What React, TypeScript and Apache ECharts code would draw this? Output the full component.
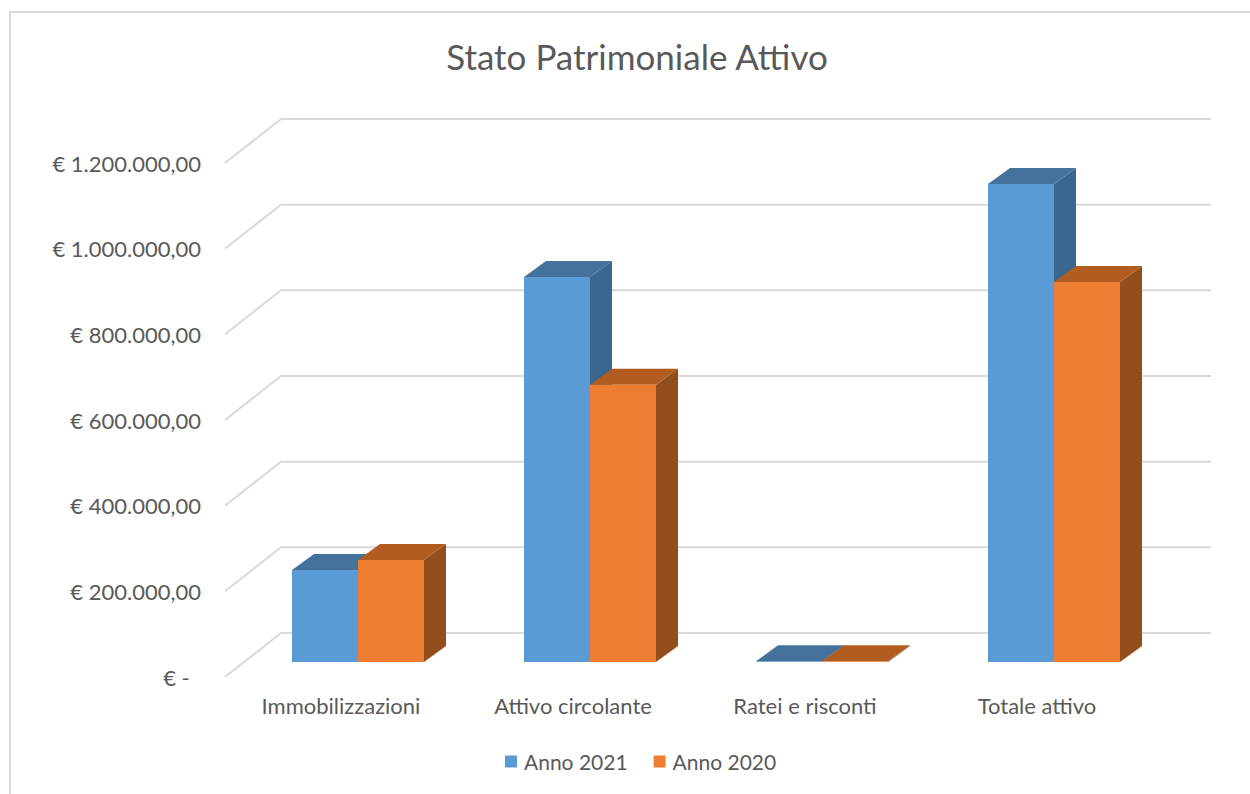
import React, { useEffect, useRef } from "react";
import * as echarts from "echarts";

const categories = ["Immobilizzazioni", "Attivo circolante", "Ratei e risconti", "Totale attivo"];
const anno2021 = [215000, 899000, 1500, 1116000];
const anno2020 = [238000, 647000, 1500, 887000];
const tickValues = [0, 200000, 400000, 600000, 800000, 1000000, 1200000];
const tickLabels = ["€ -\u00A0\u00A0", "€ 200.000,00", "€ 400.000,00", "€ 600.000,00", "€ 800.000,00", "€ 1.000.000,00", "€ 1.200.000,00"];

const FONT = "Lato, 'Open Sans', sans-serif";
const TEXT = "#595959";

function barSeries(name: string, values: number[], front: string, top: string, side: string, slot: number) {
  return {
    type: "custom",
    name,
    coordinateSystem: "cartesian2d",
    itemStyle: { color: front },
    clip: false,
    z: 3 + slot,
    data: values.map((v, i) => [i, v]),
    encode: { x: 0, y: 1 },
    renderItem: (_p: any, api: any) => {
      const w = 66;
      const base = api.coord([api.value(0), 0]);
      const head = api.coord([api.value(0), api.value(1)]);
      const x0 = base[0] + 17 + (slot === 0 ? -w : 0);
      const x1 = x0 + w;
      const yb = base[1] - 15;
      const yt = head[1] - 15;
      const dx = 22;
      const dy = 16;
      return {
        type: "group",
        children: [
          { type: "polygon", shape: { points: [[x1, yb], [x1 + dx, yb - dy], [x1 + dx, yt - dy], [x1, yt]] }, style: { fill: side } },
          { type: "polygon", shape: { points: [[x0, yt], [x0 + dx, yt - dy], [x1 + dx, yt - dy], [x1, yt]] }, style: { fill: top } },
          { type: "rect", shape: { x: x0, y: yt, width: w, height: yb - yt }, style: { fill: front } },
        ],
      };
    },
  };
}

export default function App() {
  const ref = useRef<HTMLDivElement>(null);
  useEffect(() => {
    const chart = echarts.init(ref.current!, undefined, { renderer: "svg" });
    chart.setOption({
      animation: false,
      backgroundColor: "#ffffff",
      textStyle: { fontFamily: FONT },
      title: {
        text: "Stato Patrimoniale Attivo",
        left: 632,
        top: 33,
        textAlign: "center",
        textStyle: { fontFamily: FONT, fontSize: 35, fontWeight: "normal", color: TEXT },
      },
      legend: {
        data: ["Anno 2021", "Anno 2020"],
        left: 500,
        top: 746,
        icon: "rect",
        itemWidth: 12,
        itemHeight: 12,
        itemGap: 26,
        textStyle: { fontFamily: FONT, fontSize: 21, color: TEXT, padding: [0, 0, 0, 2] },
      },
      grid: { left: 225, right: 97, top: 163, bottom: 117 },
      xAxis: {
        type: "category",
        data: categories,
        axisLine: { show: false },
        axisTick: { show: false },
        axisLabel: { color: TEXT, fontFamily: FONT, fontSize: 22, margin: 17 },
      },
      yAxis: {
        type: "value",
        min: 0,
        max: 1200000,
        interval: 200000,
        axisLine: { show: false },
        axisTick: { show: false },
        splitLine: { show: false },
        axisLabel: {
          color: TEXT,
          fontFamily: FONT,
          fontSize: 22,
          margin: 24,
          formatter: (v: number) => tickLabels[tickValues.indexOf(v)],
        },
      },
      graphic: [
        {
          type: "polyline",
          silent: true,
          shape: { points: [[1250, 12], [10, 12], [10, 794]] },
          style: { fill: "none", stroke: "#d9d9d9", lineWidth: 2 },
        },
      ],
      series: [
        {
          type: "custom",
          name: "griglia",
          coordinateSystem: "cartesian2d",
          clip: false,
          z: 1,
          data: tickValues.map((v) => [0, v]),
          encode: { y: 1 },
          renderItem: (_p: any, api: any) => {
            const p = api.coord([0, api.value(1)]);
            const left = p[0] - api.size([1, 0])[0] / 2;
            const width = api.size([1, 0])[0] * categories.length;
            return {
              type: "polyline",
              shape: { points: [[left, p[1]], [left + 56, p[1] - 44], [left + 58 + width, p[1] - 44]] },
              style: { fill: "none", stroke: "#d9d9d9", lineWidth: 2 },
            };
          },
        },
        barSeries("Anno 2021", anno2021, "#5B9BD5", "#44729D", "#3A668F", 0),
        barSeries("Anno 2020", anno2020, "#ED7D31", "#B35C22", "#934E1D", 1),
      ],
    });
    return () => chart.dispose();
  }, []);
  return <div ref={ref} style={{ position: "absolute", left: 0, top: 0, width: 1250, height: 794 }} />;
}
